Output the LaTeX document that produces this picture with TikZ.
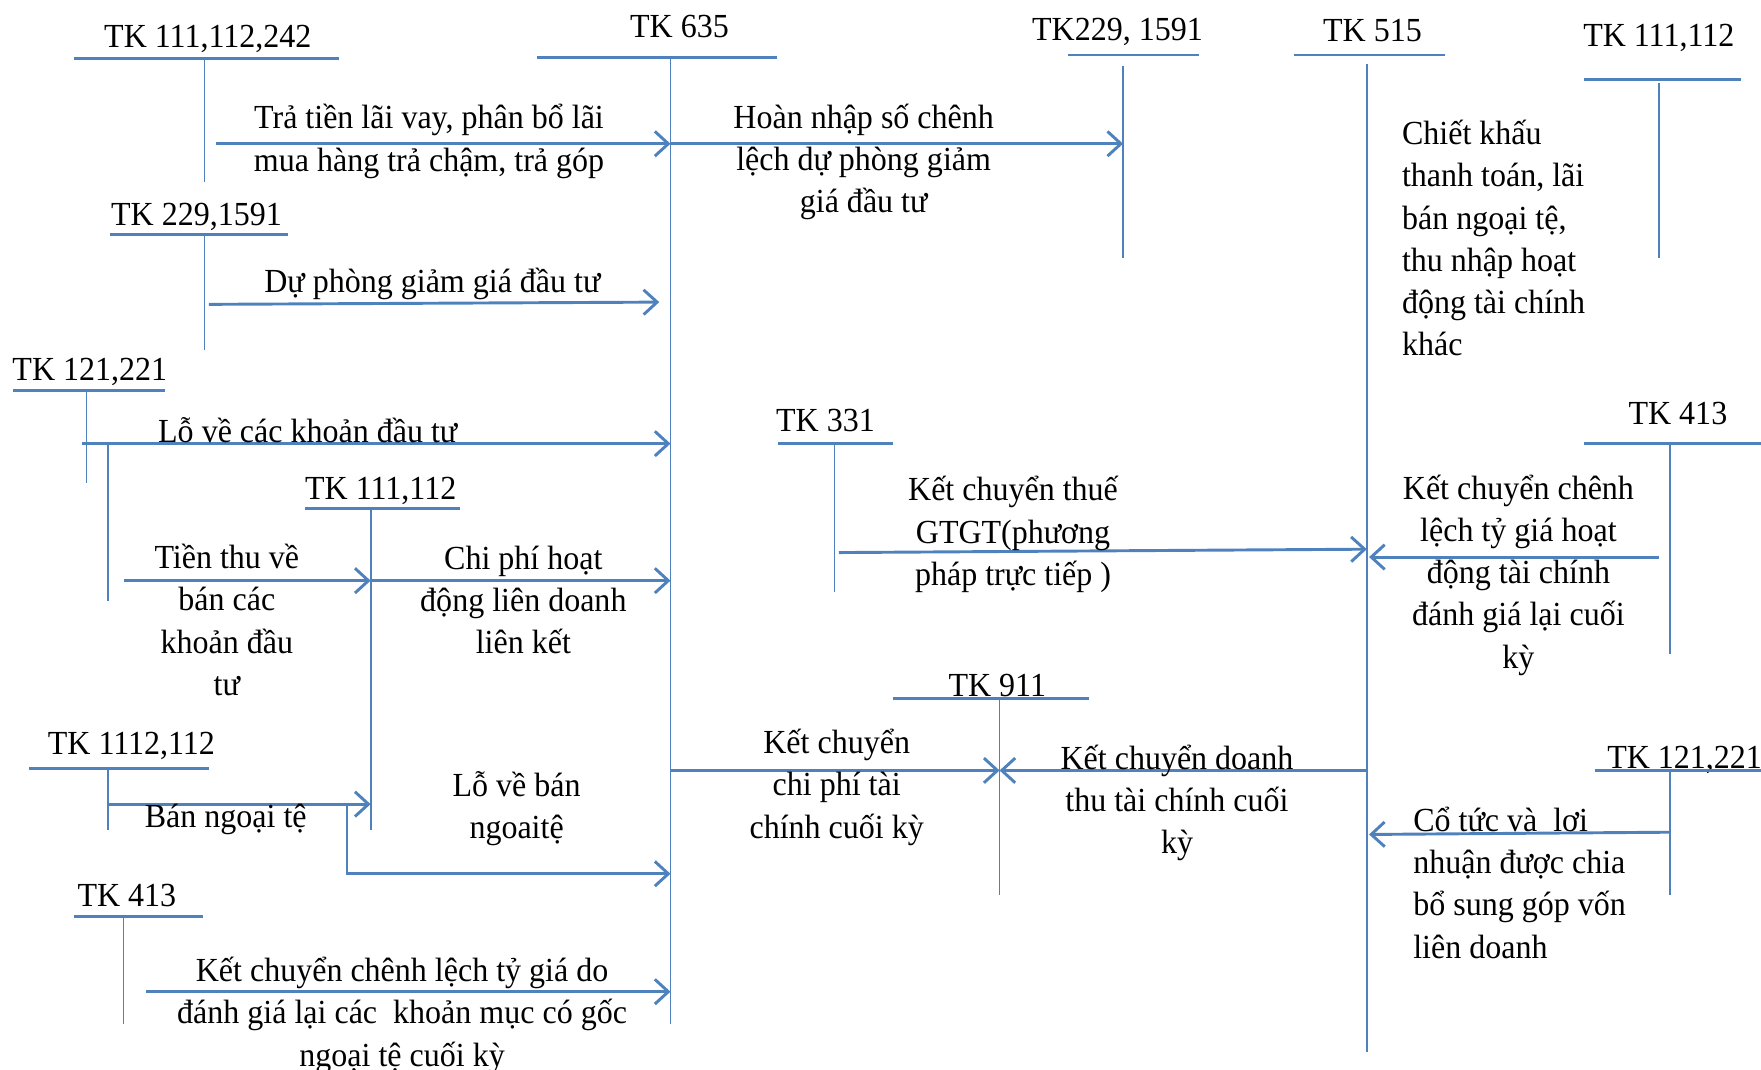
\documentclass[tikz,border=0pt]{standalone}
\usepackage{fontspec}
\setmainfont{Liberation Serif}[FakeStretch=0.95]
\usetikzlibrary{arrows.meta}
\definecolor{acc}{HTML}{4F81BD}

% T-account: name, title, title position, bar x1, bar x2, bar y, stem x, stem top, stem bottom
\newcommand\tacc[9]{%
  \node (#1) at (#3) {#2};
  \coordinate (#1-l) at (#4,#6); \coordinate (#1-r) at (#5,#6);
  \coordinate (#1-t) at (#7,#8); \coordinate (#1-b) at (#7,#9);
  \draw[tline] (#1-l) -- (#1-r);
  \draw[vline] (#1-t) -- (#1-b);}

\begin{document}
\begin{tikzpicture}[x=0.5pt,y=-0.5pt,
  every node/.style={font=\fontsize{15}{18.8}\selectfont, inner sep=0pt, align=center, yshift=-1pt},
  tline/.style={draw=acc, line width=1.2pt},
  vline/.style={draw=acc, line width=0.8pt},
  flow/.style={draw=acc, line width=1.3pt, -{Straight Barb[length=6pt,width=11pt]}},
  leftblock/.style={align=left, anchor=west}]
\useasboundingbox (0,0) rectangle (1568,952);

% accounts
\tacc{k111a}{TK 111,112,242}{185,33}{66}{302}{50}{182}{50}{160}
\tacc{k635}{TK 635}{605,22}{478}{692}{49}{597}{49}{910}
\tacc{k229r}{TK229, 1591}{995,26}{951}{1068}{47}{1000}{57}{228}
\tacc{k515}{TK 515}{1222,25}{1152}{1287}{47}{1217}{55}{935}
\tacc{k111r}{TK 111,112}{1477,32}{1410}{1550}{69}{1477}{72}{228}
\tacc{k229}{TK 229,1591}{175,191}{98}{256}{207}{182}{207}{310}
\tacc{k121}{TK 121,221}{80,329}{12}{147}{346}{77}{346}{428}
\tacc{k111m}{TK 111,112}{339,435}{272}{410}{451}{330}{451}{737}
\tacc{k331}{TK 331}{735,372}{693}{795}{393}{743}{393}{525}
\tacc{k413r}{TK 413}{1494,366}{1410}{1568}{393}{1487}{393}{580}
\tacc{k911}{TK 911}{888,608}{795}{970}{620}{890}{620}{795}
\tacc{k1112}{TK 1112,112}{117,662}{26}{186}{682}{96}{682}{737}
\tacc{k413}{TK 413}{113,795}{66}{181}{814}{110}{814}{910}
\tacc{k121r}{TK 121,221}{1500,675}{1420}{1568}{684}{1487}{684}{795}

% connector end points
\coordinate (f1s) at (192,126);  \coordinate (f1e) at (597,126);
\coordinate (f2e) at (1000,126);
\coordinate (f3s) at (186,269);  \coordinate (f3e) at (587,267);
\coordinate (f4s) at (73,393);   \coordinate (f4e) at (597,393);
\coordinate (b4t) at (96,393);   \coordinate (b4b) at (96,533);
\coordinate (f5s) at (110,515);  \coordinate (f5e) at (330,515);
\coordinate (f6e) at (597,515);
\coordinate (f7s) at (747,490);  \coordinate (f7e) at (1217,487);
\coordinate (f8s) at (1477,494); \coordinate (f8e) at (1219,494);
\coordinate (f9s) at (597,684);  \coordinate (f9e) at (890,684);
\coordinate (f10s) at (1217,684);
\coordinate (f11s) at (96,714);  \coordinate (f11e) at (330,714);
\coordinate (f12s) at (309,714); \coordinate (f12m) at (309,776);
\coordinate (f12e) at (597,776);
\coordinate (f13s) at (130,881); \coordinate (f13e) at (597,881);
\coordinate (f14s) at (1487,739); \coordinate (f14e) at (1219,741);

% connectors
\draw[flow] (f1s) -- (f1e);
\draw[flow] (f1e) -- (f2e);
\draw[flow] (f3s) -- (f3e);
\draw[flow] (f4s) -- (f4e);
\draw[vline] (b4t) -- (b4b);
\draw[flow] (f5s) -- (f5e);
\draw[flow] (f5e) -- (f6e);
\draw[flow] (f7s) -- (f7e);
\draw[flow] (f8s) -- (f8e);
\draw[flow] (f9s) -- (f9e);
\draw[flow] (f10s) -- (f9e);
\draw[flow] (f11s) -- (f11e);
\draw[flow] (f12s) -- (f12m) -- (f12e);
\draw[flow] (f13s) -- (f13e);
\draw[flow] (f14s) -- (f14e);

% entry texts
\node (t1) at (382,124) {Trả tiền lãi vay, phân bổ lãi\\mua hàng trả chậm, trả góp};
\node (t2) at (769,142) {Hoàn nhập số chênh\\lệch dự phòng giảm\\giá đầu tư};
\node (t3) at (385,251) {Dự phòng giảm giá đầu tư};
\node[leftblock] (t4) at (1248,210) {Chiết khấu\\thanh toán, lãi\\bán ngoại tệ,\\thu nhập hoạt\\động tài chính\\khác};
\node (t5) at (274,381) {Lỗ về các khoản đầu tư};
\node (t6) at (202,550) {Tiền thu về\\bán các\\khoản đầu\\tư};
\node (t7) at (466,532) {Chi phí hoạt\\động liên doanh\\liên kết};
\node (t8) at (902,474) {Kết chuyển thuế\\GTGT(phương\\pháp trực tiếp )};
\node (t9) at (1352,510) {Kết chuyển chênh\\lệch tỷ giá hoạt\\động tài chính\\đánh giá lại cuối\\kỳ};
\node (t10) at (745,699) {Kết chuyển\\chi phí tài\\chính cuối kỳ};
\node (t11) at (1048,713) {Kết chuyển doanh\\thu tài chính cuối\\kỳ};
\node (t12) at (201,728) {Bán ngoại tệ};
\node (t13) at (460,718) {Lỗ về bán\\ngoaitệ};
\node (t14) at (358,902) {Kết chuyển chênh lệch tỷ giá do\\đánh giá lại các\ \ khoản mục có gốc\\ngoại tệ cuối kỳ};
\node[leftblock] (t15) at (1258,784) {Cổ tức và\ \ lơi\\nhuận được chia\\bổ sung góp vốn\\liên doanh};
\end{tikzpicture}
\end{document}
